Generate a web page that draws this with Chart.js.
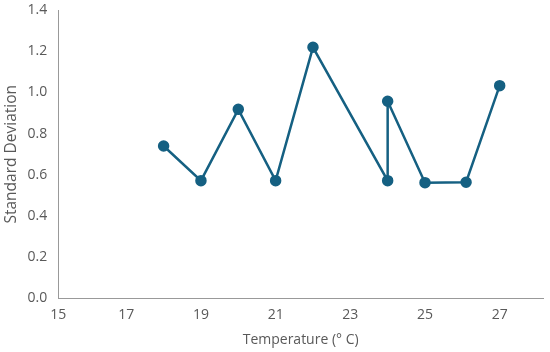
<!DOCTYPE html>
<html>
<head>
<meta charset="utf-8">
<script src="https://cdn.jsdelivr.net/npm/chart.js@4"></script>
<style>
html,body{margin:0;padding:0;background:#fff;}
#wrap{width:550px;height:352px;position:relative;}
</style>
</head>
<body>
<div id="wrap"><canvas id="c" width="550" height="352"></canvas></div>
<script>
const temperatures = [18, 19, 20, 21, 22, 24, 24, 25, 26.1, 27];
const stdDevs = [0.74, 0.572, 0.918, 0.572, 1.219, 0.572, 0.957, 0.562, 0.564, 1.033];
const xTickValues = [15.18, 17, 19, 21, 23, 25, 27];
const yTickValues = [0, 0.2, 0.4, 0.6, 0.8, 1.0, 1.2, 1.4];
const xTitle = 'Temperature (° C)';
const yTitle = 'Standard Deviation';

const fam = "'Open Sans', 'Noto Sans', sans-serif";
const tickFont = {family: fam, size: 14};
const grey = '#595959';
const pts = temperatures.map((t, i) => ({x: t, y: stdDevs[i]}));

new Chart(document.getElementById('c'), {
  type: 'scatter',
  data: {
    datasets: [{
      data: pts,
      showLine: true,
      borderColor: '#156082',
      backgroundColor: '#156082',
      borderWidth: 2.5,
      pointRadius: 4.5,
      pointHoverRadius: 4.5,
      tension: 0
    }]
  },
  options: {
    responsive: false,
    animation: false,
    layout: {padding: {top: 10, right: 5, left: 0, bottom: 0}},
    plugins: {legend: {display: false}, tooltip: {enabled: false}},
    scales: {
      x: {
        type: 'linear',
        min: 15.18,
        max: 28.16,
        afterBuildTicks: s => { s.ticks = xTickValues.map(v => ({value: v})); },
        afterFit: s => { s.height = 53.5; s.paddingLeft = 0; s.paddingRight = 0; },
        grid: {display: false, drawTicks: false},
        border: {display: true, color: '#999', width: 1},
        ticks: {color: grey, font: tickFont, padding: 8, autoSkip: false, maxRotation: 0,
          callback: v => String(Math.round(v))},
        title: {display: true, text: xTitle, color: grey, font: {family: fam, size: 14}, padding: {top: 2, bottom: 4}}
      },
      y: {
        min: 0,
        max: 1.4,
        afterBuildTicks: s => { s.ticks = yTickValues.map(v => ({value: v})); },
        afterFit: s => { s.width = 58.3; s.paddingTop = 0; s.paddingBottom = 0; },
        grid: {display: false, drawTicks: false},
        border: {display: true, color: '#999', width: 1},
        ticks: {color: grey, font: tickFont, padding: 11, callback: v => Number(v).toFixed(1)},
        title: {display: true, text: yTitle, color: grey, font: {family: fam, size: 15.5}, padding: {top: 2, bottom: 0}}
      }
    }
  }
});
</script>
</body>
</html>
